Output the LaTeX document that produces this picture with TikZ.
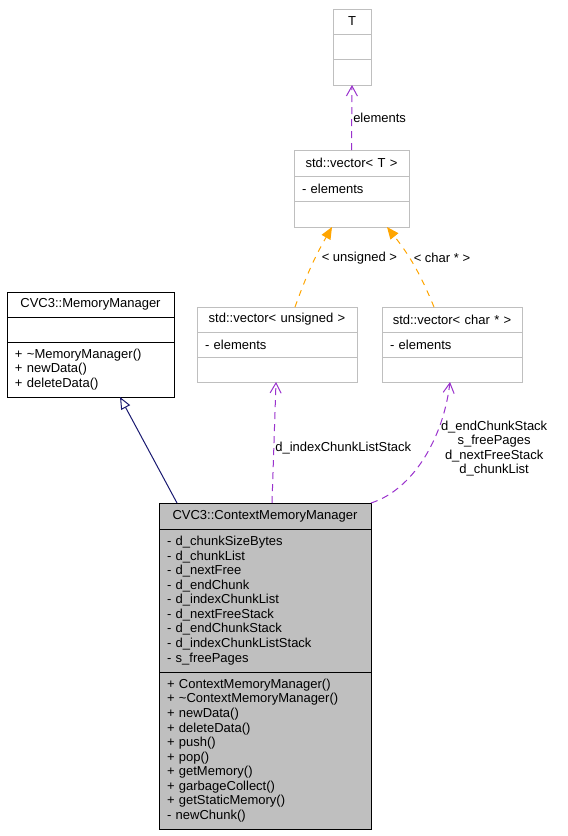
\documentclass[tikz,border=0pt]{standalone}
\usepackage{fontspec}
\setmainfont{Liberation Sans}
\usepackage{tikz}
\usetikzlibrary{arrows.meta,positioning}
\definecolor{boxgray}{HTML}{BFBFBF}
\definecolor{nodegray}{HTML}{BFBFBF}
\definecolor{inhnavy}{HTML}{191970}
\definecolor{usepurple}{HTML}{9A32CD}
\definecolor{tplorange}{HTML}{FFA500}

\begin{document}
\begin{tikzpicture}[x=1pt,y=-1pt,
  node distance=0pt,
  part/.style={draw=boxgray,line width=1pt,outer sep=0pt,inner xsep=8pt,inner ysep=2pt,
               font=\fontsize{13}{14.55}\selectfont,align=left},
  head/.style={part,align=center},
  strong/.style={draw=black},
  focus/.style={draw=black,fill=nodegray},
  inherit/.style={-{Triangle[open,length=12pt,width=10pt,fill=white]},draw=inhnavy,line width=1pt},
  usage/.style={-{Straight Barb[length=10pt,width=11pt]},draw=usepurple,line width=1pt,
                dash pattern=on 7pt off 5pt},
  templ/.style={-{Triangle[length=12pt,width=10pt]},draw=tplorange,line width=1pt,
                dash pattern=on 6pt off 6pt},
  lbl/.style={font=\fontsize{13}{14.3}\selectfont,inner sep=0pt,align=center}
]
\useasboundingbox (0,0) rectangle (568,836);

% template parameter T
\node[head,text width=22pt,minimum height=25pt,anchor=north west] (tHead) at (333,9) {T};
\node[part,text width=22pt,minimum height=25pt,below=of tHead] (tAttr) {};
\node[part,text width=22pt,minimum height=26pt,below=of tAttr] (tOps) {};

% std::vector< T >
\node[head,text width=99pt,minimum height=26pt,anchor=north west] (vecTHead) at (294,150) {std::vector< T >};
\node[part,text width=99pt,minimum height=25pt,below=of vecTHead] (vecTAttr) {- elements};
\node[part,text width=99pt,minimum height=26pt,below=of vecTAttr] (vecTOps) {};

% CVC3::MemoryManager
\node[head,strong,text width=151pt,minimum height=25pt,anchor=north west] (mmHead) at (7,292) {CVC3::MemoryManager};
\node[part,strong,text width=151pt,minimum height=25pt,below=of mmHead] (mmAttr) {};
\node[part,strong,text width=151pt,minimum height=55pt,below=of mmAttr] (mmOps)
  {+ \textasciitilde MemoryManager()\\+ newData()\\+ deleteData()};

% std::vector< unsigned >
\node[head,text width=144pt,minimum height=25pt,anchor=north west] (vecUHead) at (197,307) {std::vector< unsigned >};
\node[part,text width=144pt,minimum height=25pt,below=of vecUHead] (vecUAttr) {- elements};
\node[part,text width=144pt,minimum height=25pt,below=of vecUAttr] (vecUOps) {};

% std::vector< char * >
\node[head,text width=124pt,minimum height=25pt,anchor=north west] (vecCHead) at (382,307) {std::vector< char * >};
\node[part,text width=124pt,minimum height=25pt,below=of vecCHead] (vecCAttr) {- elements};
\node[part,text width=124pt,minimum height=25pt,below=of vecCAttr] (vecCOps) {};

% CVC3::ContextMemoryManager
\node[head,focus,text width=196pt,minimum height=26pt,anchor=north west] (cmmHead) at (159,503) {CVC3::ContextMemoryManager};
\node[part,focus,text width=196pt,minimum height=143pt,below=of cmmHead] (cmmAttr)
  {- d\_chunkSizeBytes\\- d\_chunkList\\- d\_nextFree\\- d\_endChunk\\- d\_indexChunkList\\
   - d\_nextFreeStack\\- d\_endChunkStack\\- d\_indexChunkListStack\\- s\_freePages};
\node[part,focus,text width=196pt,minimum height=157pt,below=of cmmAttr] (cmmOps)
  {+ ContextMemoryManager()\\+ \textasciitilde ContextMemoryManager()\\+ newData()\\+ deleteData()\\
   + push()\\+ pop()\\+ getMemory()\\+ garbageCollect()\\+ getStaticMemory()\\- newChunk()};

% relations
\draw[usage] (vecTHead.north) -- node[lbl,anchor=west,xshift=1pt]{elements} (tOps.south);
\draw[templ] ([xshift=18pt]vecUHead.north) to[bend left=5]
  node[lbl,pos=0.61,anchor=west,xshift=6pt]{< unsigned >} ([xshift=-19.5pt]vecTOps.south);
\draw[templ] ([xshift=-18pt]vecCHead.north) to[bend right=8]
  node[lbl,pos=0.6,anchor=west,xshift=4pt]{< char * >} ([xshift=35.5pt]vecTOps.south);
\draw[inherit] ([xshift=18pt]cmmHead.north west) -- ([xshift=29.5pt]mmOps.south);
\draw[usage] ([xshift=7pt]cmmHead.north) --
  node[lbl,pos=0.45,anchor=west,xshift=1pt]{d\_indexChunkListStack} ([xshift=-1pt]vecUOps.south);
\draw[usage] (cmmHead.north east) .. controls (412,490) and (443,440) ..
  node[lbl,pos=0.58,anchor=west,xshift=11pt]{d\_endChunkStack\\s\_freePages\\d\_nextFreeStack\\d\_chunkList}
  ([xshift=-2pt]vecCOps.south);
\end{tikzpicture}
\end{document}
